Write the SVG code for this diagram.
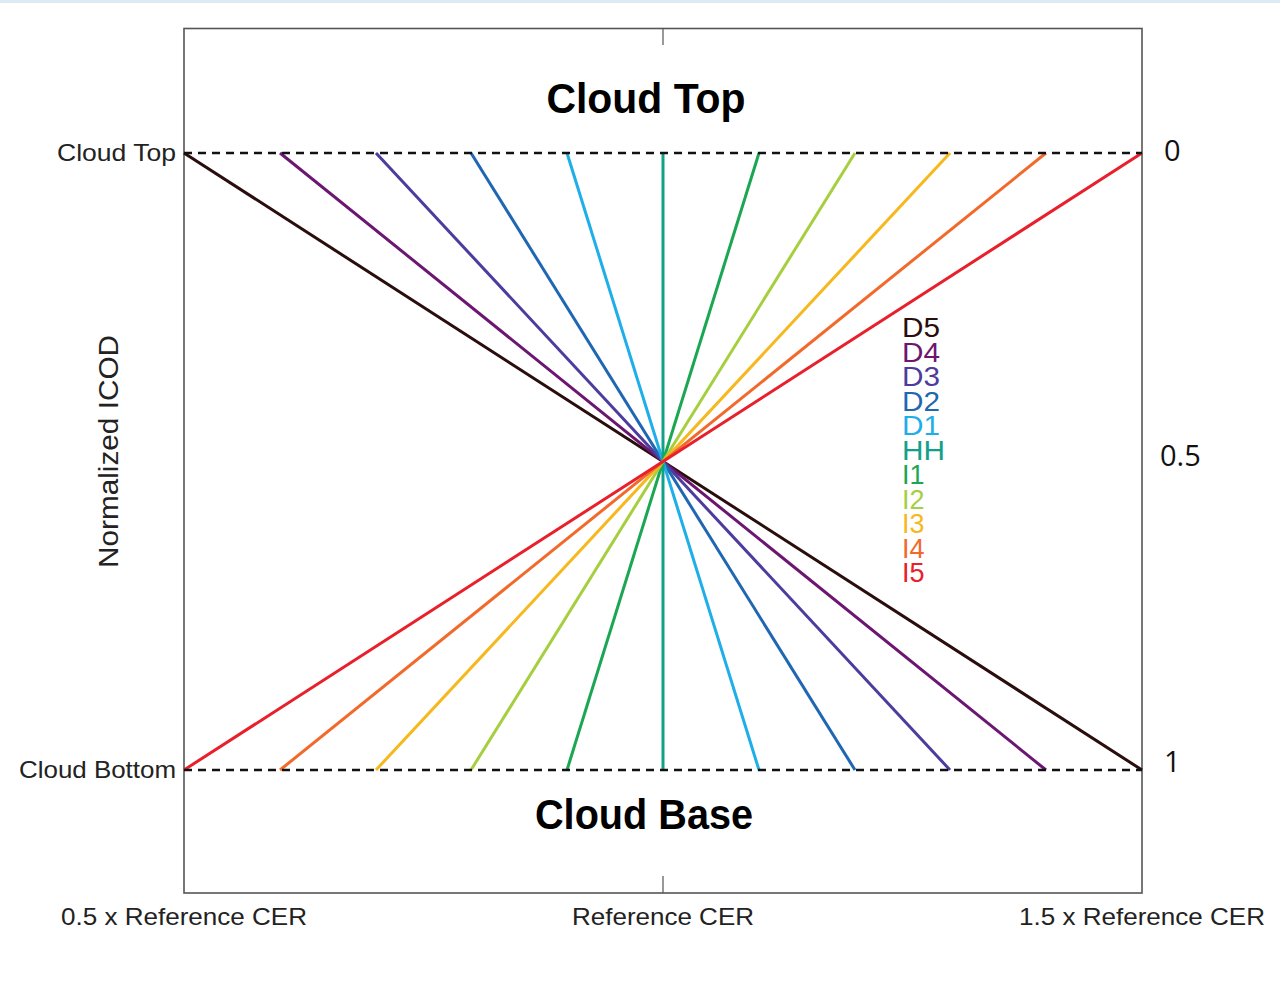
<svg xmlns="http://www.w3.org/2000/svg" width="1280" height="986" viewBox="0 0 1280 986">
<style>
.ax{font-family:"Liberation Sans",Arial,sans-serif;font-size:24px;fill:#222}
.num{font-family:"Open Sans","Liberation Sans",sans-serif;font-size:29px;fill:#111}
.title{font-family:"Liberation Sans",Arial,sans-serif;font-weight:bold;font-size:42px;fill:#000}
.leg{font-family:"Liberation Sans",Arial,sans-serif;font-size:27px}
.ln{stroke-width:3;fill:none}
.dash{stroke:#111;stroke-width:2.5;stroke-dasharray:8,6;fill:none}
</style>
<rect x="0" y="0" width="1280" height="986" fill="#fff"/>
<rect x="0" y="0" width="1280" height="3" fill="#dde9f4"/>
<g id="frame">
<rect x="184" y="28.5" width="958" height="864.5" fill="none" stroke="#555" stroke-width="1.6"/>
<line x1="663" y1="28" x2="663" y2="45" stroke="#555" stroke-width="1.2"/>
<line x1="663" y1="876" x2="663" y2="893" stroke="#555" stroke-width="1.2"/>
</g>
<g id="connectors">
<line class="ln" x1="184" y1="153" x2="1142" y2="770" stroke="#2a0d0d"/>
<line class="ln" x1="280" y1="153" x2="1046" y2="770" stroke="#6b1670"/>
<line class="ln" x1="376" y1="153" x2="950" y2="770" stroke="#4d3b9e"/>
<line class="ln" x1="471" y1="153" x2="855" y2="770" stroke="#1f67b2"/>
<line class="ln" x1="567" y1="153" x2="759" y2="770" stroke="#1eaee8"/>
<line class="ln" x1="663" y1="153" x2="663" y2="770" stroke="#13a08b"/>
<line class="ln" x1="759" y1="153" x2="567" y2="770" stroke="#1aa653"/>
<line class="ln" x1="855" y1="153" x2="471" y2="770" stroke="#a6cf3f"/>
<line class="ln" x1="950" y1="153" x2="376" y2="770" stroke="#f6b81c"/>
<line class="ln" x1="1046" y1="153" x2="280" y2="770" stroke="#f26a2b"/>
<line class="ln" x1="1142" y1="153" x2="184" y2="770" stroke="#e8202b"/>
<line class="dash" x1="184" y1="153" x2="1142" y2="153"/>
<line class="dash" x1="184" y1="770" x2="1142" y2="770"/>
</g>
<g id="legend">
<text class="leg" x="902" y="337" fill="#2a0d0d" textLength="38" lengthAdjust="spacingAndGlyphs">D5</text>
<text class="leg" x="902" y="361.5" fill="#6b1670" textLength="38" lengthAdjust="spacingAndGlyphs">D4</text>
<text class="leg" x="902" y="386" fill="#4d3b9e" textLength="38" lengthAdjust="spacingAndGlyphs">D3</text>
<text class="leg" x="902" y="410.5" fill="#1f67b2" textLength="38" lengthAdjust="spacingAndGlyphs">D2</text>
<text class="leg" x="902" y="435" fill="#1eaee8" textLength="38" lengthAdjust="spacingAndGlyphs">D1</text>
<text class="leg" x="902" y="459.5" fill="#13a08b" textLength="43" lengthAdjust="spacingAndGlyphs">HH</text>
<text class="leg" x="902" y="484" fill="#1aa653">I1</text>
<text class="leg" x="902" y="508.5" fill="#a6cf3f">I2</text>
<text class="leg" x="902" y="533" fill="#f6b81c">I3</text>
<text class="leg" x="902" y="557.5" fill="#f26a2b">I4</text>
<text class="leg" x="902" y="582" fill="#e8202b">I5</text>
</g>
<g id="titles">
<text class="title" x="646" y="113" text-anchor="middle" textLength="199" lengthAdjust="spacingAndGlyphs">Cloud Top</text>
<text class="title" x="644" y="829" text-anchor="middle" textLength="218" lengthAdjust="spacingAndGlyphs">Cloud Base</text>
</g>
<g id="axis-labels">
<text class="ax" x="57" y="161" textLength="119" lengthAdjust="spacingAndGlyphs">Cloud Top</text>
<text class="ax" x="19" y="778" textLength="157" lengthAdjust="spacingAndGlyphs">Cloud Bottom</text>
<text class="ax" x="61" y="925" textLength="246" lengthAdjust="spacingAndGlyphs">0.5 x Reference CER</text>
<text class="ax" x="572" y="925" textLength="182" lengthAdjust="spacingAndGlyphs">Reference CER</text>
<text class="ax" x="1019" y="925" textLength="246" lengthAdjust="spacingAndGlyphs">1.5 x Reference CER</text>
<text class="ax" transform="translate(118,568) rotate(-90)" style="font-size:27px" textLength="233" lengthAdjust="spacingAndGlyphs">Normalized ICOD</text>
<text class="num" x="1164" y="161">0</text>
<text class="num" x="1160" y="466">0.5</text>
<text class="num" x="1164" y="772">1</text>
</g>
</svg>
